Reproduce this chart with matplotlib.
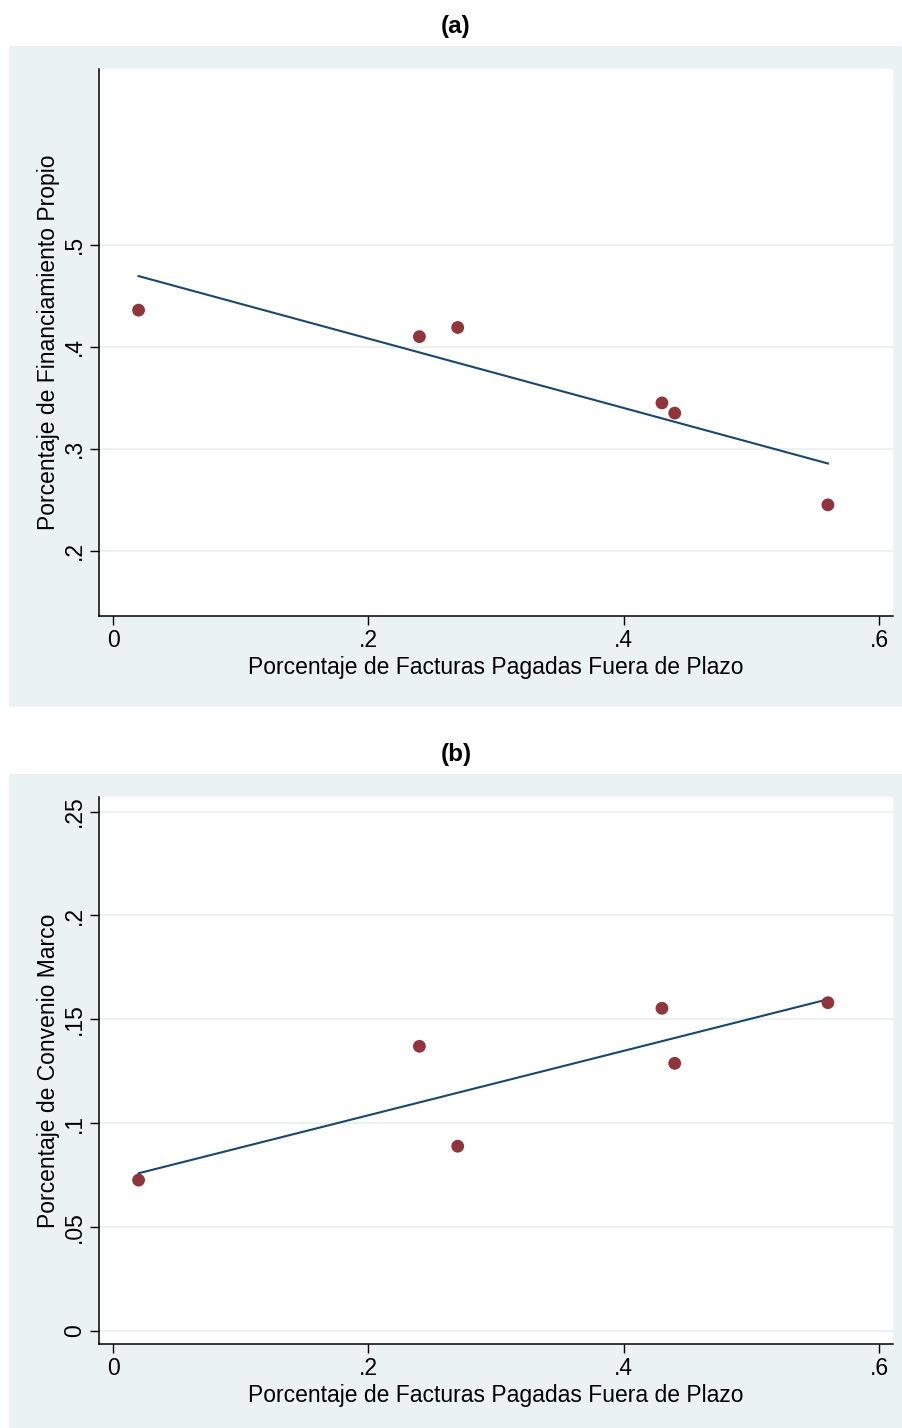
import numpy as np
import matplotlib.pyplot as plt
from matplotlib.patches import Rectangle
from matplotlib.ticker import FixedLocator, FuncFormatter

plt.rcParams["font.family"] = ["Liberation Sans", "DejaVu Sans"]

# -----------------------------
# Data
# -----------------------------
facturas_fuera_plazo = [0.02, 0.24, 0.27, 0.43, 0.44, 0.56]
financiamiento_propio = [0.436, 0.410, 0.419, 0.345, 0.335, 0.245]
convenio_marco = [0.0726, 0.137, 0.0889, 0.1553, 0.1288, 0.158]

x_ticks = [0, 0.2, 0.4, 0.6]
y_ticks_a = [0.2, 0.3, 0.4, 0.5]
y_ticks_b = [0, 0.05, 0.1, 0.15, 0.2, 0.25]

x_label = "Porcentaje de Facturas Pagadas Fuera de Plazo"
y_label_a = "Porcentaje de Financiamiento Propio"
y_label_b = "Porcentaje de Convenio Marco"

# Stata s2color-ish palette
NAVY = "#1a476f"
MAROON = "#90353b"
BG = "#eaf2f3"

W, H = 903, 1428
fig = plt.figure(figsize=(W / 100, H / 100), dpi=100, facecolor="white")


def px_rect(x0, y0, x1, y1):
    # pixel box (top-left origin) -> figure fraction [l, b, w, h]
    return [x0 / W, 1 - y1 / H, (x1 - x0) / W, (y1 - y0) / H]


def stata_fmt(v, pos=None):
    if abs(v) < 1e-12:
        return "0"
    s = f"{v:g}"
    return s.replace("0.", ".", 1) if s.startswith("0.") else s


def panel(bg_box, ax_box, title, x, y, yticks, ylim, ylabel):
    l, b, w, h = px_rect(*bg_box)
    fig.patches.append(Rectangle((l, b), w, h, transform=fig.transFigure,
                                 facecolor=BG, edgecolor="none", zorder=-5))
    ax = fig.add_axes(px_rect(*ax_box))
    ax.set_facecolor("white")

    # fitted line (linear fit, like Stata lfit)
    slope, icpt = np.polyfit(x, y, 1)
    xf = np.array([min(x), max(x)])
    ax.plot(xf, icpt + slope * xf, color=NAVY, lw=1.5, zorder=3)
    ax.scatter(x, y, s=85, color=MAROON, edgecolors="none", zorder=4)

    ax.set_xlim(-0.011, 0.611)
    ax.set_ylim(*ylim)
    ax.xaxis.set_major_locator(FixedLocator(x_ticks))
    ax.yaxis.set_major_locator(FixedLocator(yticks))
    ax.xaxis.set_major_formatter(FuncFormatter(stata_fmt))
    ax.yaxis.set_major_formatter(FuncFormatter(stata_fmt))

    ax.grid(True, axis="y", color=BG, lw=1.5, zorder=1)
    ax.set_axisbelow(True)
    for sp in ["top", "right"]:
        ax.spines[sp].set_visible(False)
    for sp in ["left", "bottom"]:
        ax.spines[sp].set_linewidth(1.1)
        ax.spines[sp].set_color("black")

    ax.tick_params(axis="both", direction="out", length=6.5, width=1.0,
                   labelsize=16.5, pad=3)
    for lab in ax.get_yticklabels():
        lab.set_rotation(90)
        lab.set_va("center")

    ax.set_xlabel(x_label, fontsize=16.5, labelpad=3)
    ax.set_ylabel(ylabel, fontsize=16.5, labelpad=2)

    cx = (bg_box[0] + bg_box[2]) / 2 / W
    fig.text(cx, 1 - (bg_box[1] - 20) / H, title, ha="center", va="center",
             fontsize=17.5, fontweight="bold")
    return ax


panel((9, 46, 903, 707), (99, 69, 893, 616), "(a)",
      facturas_fuera_plazo, financiamiento_propio, y_ticks_a, (0.136, 0.6725), y_label_a)
panel((9, 774, 903, 1428), (99, 797, 893, 1344), "(b)",
      facturas_fuera_plazo, convenio_marco, y_ticks_b, (-0.0063, 0.257), y_label_b)

fig.savefig("out.png", dpi=100, facecolor="white")
plt.close(fig)
